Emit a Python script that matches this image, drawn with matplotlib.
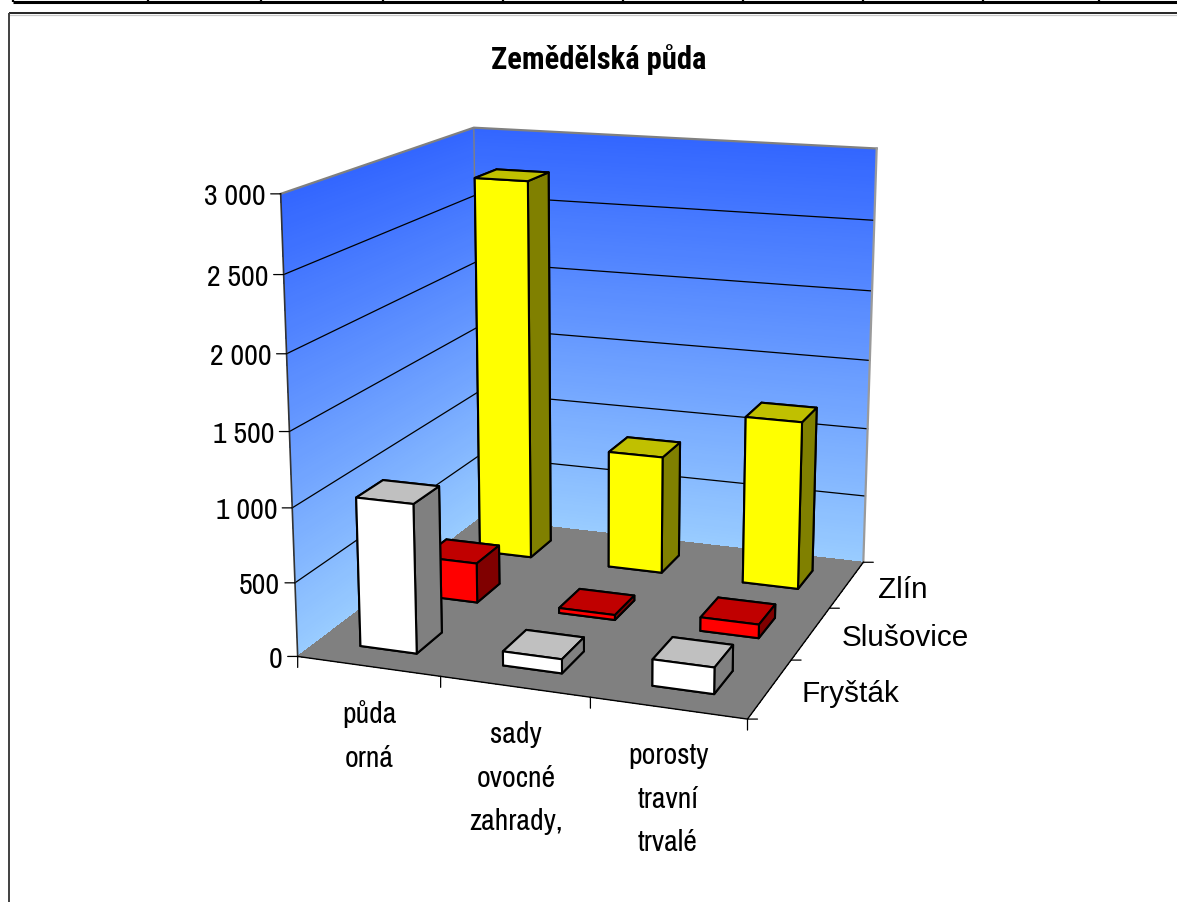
# -*- coding: utf-8 -*-
import numpy as np
import matplotlib; matplotlib.use('Agg')
import matplotlib.pyplot as plt
from matplotlib.lines import Line2D
from matplotlib.colors import to_rgb
from mpl_toolkits.mplot3d import proj3d

categories=['půda\norná','sady\novocné\nzahrady,','porosty\ntravní\ntrvalé']
series=['Fryšták','Slušovice','Zlín']
frystak=[1010,95,175]
slusovice=[282,35,95]
zlin=[2755,855,1205]
value_ticks=[0,500,1000,1500,2000,2500,3000]
value_labels=['0','500','1 000','1 500','2 000','2 500','3 000']
table_x=[13,148,261,383,503,623,743,863,983,1099]

FACES={'Fryšták':('#FFFFFF','#C0C0C0','#808080'),
       'Slušovice':('#FF0000','#C00000','#800000'),
       'Zlín':('#FFFF00','#C0C000','#808000')}
BAR=0.4
W,H=1177,903
NARROW=['Archivo Narrow','Liberation Sans']
REG='Liberation Sans'

fig=plt.figure(figsize=(W/100,H/100),dpi=100,facecolor='white')
ax=fig.add_axes([0,0,H/W,1],projection='3d',computed_zorder=False)
ax.view_init(elev=14.86,azim=-70.27)
ax.set_proj_type('persp',focal_length=0.5423)
ax.set_box_aspect((1,1.0091,1.0011))
# camera fit: 4114 px per view unit, centre at (597,395) px
S,TX,TY=4114.34,596.99,394.86
vl=ax.viewLim
L=S*vl.width; left=TX+S*vl.x0; bot=TY-S*vl.y0
ax.set_position([left/W,1-bot/H,L/W,L/H])
ax.set_axis_off()

# walls with gradient
top=np.array(to_rgb('#3366FF')); low=np.array(to_rgb('#99CCFF'))
zz=np.linspace(0,3000,121)
frac=(zz[:-1]+zz[1:])/2/3000
fc=(low[None,:]*(1-frac[:,None])+top[None,:]*frac[:,None])[:,None,:]
Zg=np.column_stack([zz,zz])
ax.plot_surface(np.zeros_like(Zg),np.column_stack([np.zeros(121),np.full(121,3.)]),Zg,facecolors=fc,
                shade=False,rstride=1,cstride=1,linewidth=0,antialiased=False,zorder=1)
ax.plot_surface(np.column_stack([np.zeros(121),np.full(121,3.)]),np.full_like(Zg,3.),Zg,facecolors=fc,
                shade=False,rstride=1,cstride=1,linewidth=0,antialiased=False,zorder=1)
# floor
ax.plot_surface(np.array([[0,3],[0,3.]]),np.array([[0,0],[3,3.]]),np.zeros((2,2)),color='#808080',
                shade=False,linewidth=0,antialiased=False,zorder=1)
for v in value_ticks[1:-1]:
    ax.plot([0,0,3],[0,3,3],[v,v,v],color='black',lw=0.9,zorder=2)
ax.plot([0,0,3],[0,3,3],[3000,3000,3000],color='#808080',lw=1.6,zorder=2)
ax.plot([3,3],[3,3],[0,3000],color='#9a9a9a',lw=1.6,zorder=2)
ax.plot([0,0],[3,3],[0,3000],color='#808080',lw=1.0,zorder=2)
ax.plot([0,0],[0,0],[0,3000],color='#333333',lw=1.2,zorder=2)
ax.plot([0,3,3],[0,0,3],[0,0,0],color='black',lw=1.0,zorder=2)

# bars, back row first
z=3
for j in (2,1,0):
    vals=(frystak,slusovice,zlin)[j]
    f,t,s=FACES[series[j]]
    for i in range(3):
        ax.bar3d(i+0.5-BAR/2,j+0.5-BAR/2,0,BAR,BAR,vals[i],color=[f,t,f,f,f,s],
                 edgecolor='black',linewidth=1.5,shade=False,zorder=z)
        z+=1
ax.set_xlim(0,3); ax.set_ylim(0,3); ax.set_zlim(0,3000)

M=ax.get_proj()
def pt(x,y,z):
    a,b,_=proj3d.proj_transform(x,y,z,M)
    return (a,b)
def tick(xyz,dx,dy):
    ax.annotate('',xy=pt(*xyz),xytext=(dx,dy),textcoords='offset pixels',annotation_clip=False,
                arrowprops=dict(arrowstyle='-',lw=0.9,color='black',shrinkA=0,shrinkB=0))
for v,lab in zip(value_ticks,value_labels):
    tick((0,0,v),-10,0)
    ax.annotate(lab,xy=pt(0,0,v),xytext=(-15,-2),textcoords='offset pixels',ha='right',va='center',
                family=NARROW,fontsize=21.5,annotation_clip=False)
for i in range(4):
    tick((i,0,0),0,-11)
    tick((3,i,0),10,0)
for j,name in enumerate(series):
    ax.annotate(name,xy=pt(3,j+0.5,0),xytext=(31,-4),textcoords='offset pixels',ha='left',va='center',
                family=REG,fontsize=21.4,annotation_clip=False)
label_px=[(369,700),(516,721),(668,742)]
for (px,py),lab in zip(label_px,categories):
    fig.text(px/W,1-py/H,lab,ha='center',va='top',family=NARROW,fontsize=21.5,linespacing=1.76)
fig.text(599/W,1-60/H,'Zemědělská půda',ha='center',va='center',family='Roboto Condensed',fontweight='bold',fontsize=22)

def seg(x0,y0,x1,y1,lw,c='black'):
    fig.add_artist(Line2D([x0/W,x1/W],[1-y0/H,1-y1/H],color=c,lw=lw,solid_capstyle='butt',transform=fig.transFigure))
seg(13,2.5,W,2.5,2.2)
for x in table_x:
    seg(x,0,x,3,1.6)
seg(9,14,W,14,1.2)
seg(9,15.5,W,15.5,0.9,'#c8c8c8')
seg(9,14,9,H,1.4,'#404040')
fig.savefig('out.png',dpi=100)
